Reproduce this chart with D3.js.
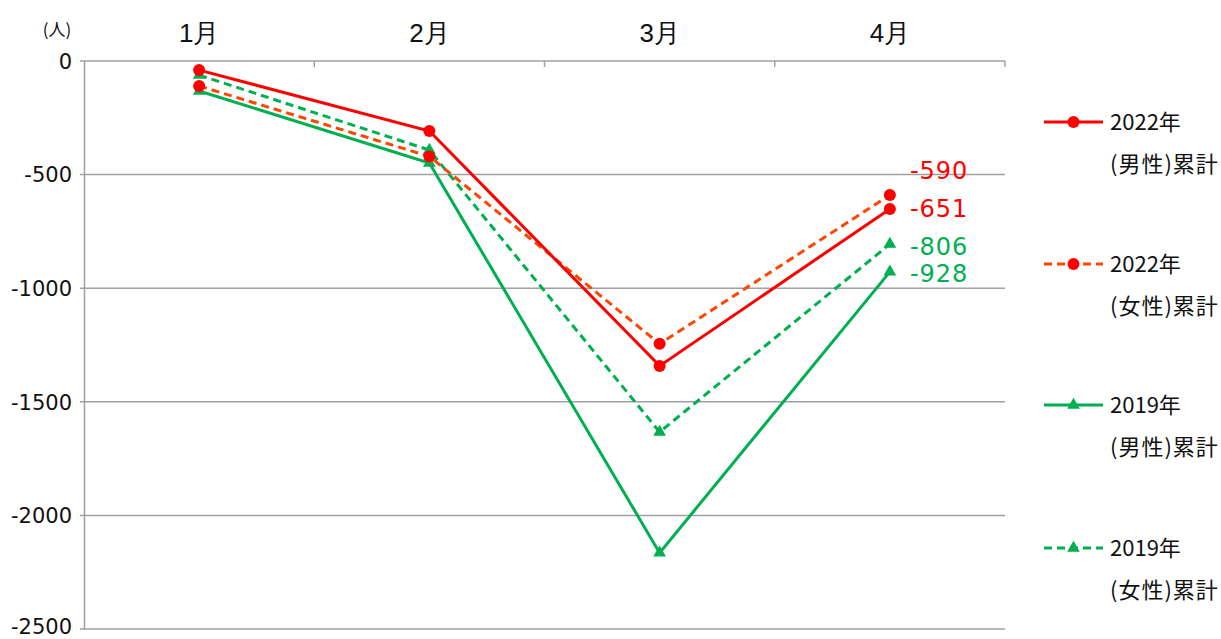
<!DOCTYPE html>
<html>
<head>
<meta charset="utf-8">
<script src="https://cdn.jsdelivr.net/npm/d3@7"></script>
<style>
  body { margin: 0; background: #fff; }
  svg { display: block; font-family: "Noto Sans CJK JP", "Open Sans", sans-serif; }
</style>
</head>
<body>
<svg id="chart" width="1221" height="639"></svg>
<script>
// Monthly cumulative figures (persons)
const months = ["1月", "2月", "3月", "4月"];
const male2022 = [-40, -308, -1342, -651];
const female2022 = [-110, -420, -1245, -590];
const male2019 = [-132, -449, -2165, -928];
const female2019 = [-62, -392, -1633, -806];
const yTicks = [0, -500, -1000, -1500, -2000, -2500];

const series = [
  { year: "2022年", sub: "(男性)累計", values: male2022, color: "#FF0000", markerColor: "#FF0000", dash: null, shape: "circle" },
  { year: "2022年", sub: "(女性)累計", values: female2022, color: "#FF4500", markerColor: "#FF0000", dash: "8,5", shape: "circle" },
  { year: "2019年", sub: "(男性)累計", values: male2019, color: "#00B050", markerColor: "#00B050", dash: null, shape: "triangle" },
  { year: "2019年", sub: "(女性)累計", values: female2019, color: "#00B050", markerColor: "#00B050", dash: "8,5", shape: "triangle" }
];

const svg = d3.select("#chart");
const plotLeft = 84, plotRight = 1005, plotTop = 61, plotBottom = 629;

const x = d3.scaleBand().domain(months).range([plotLeft, plotRight]);
const y = d3.scaleLinear().domain([-2500, 0]).range([plotBottom, plotTop]);

// Horizontal gridlines
svg.append("g").selectAll("line").data(yTicks).join("line")
  .attr("x1", plotLeft - 4).attr("x2", plotRight)
  .attr("y1", d => y(d)).attr("y2", d => y(d))
  .attr("stroke", "#A0A0A0").attr("stroke-width", 1.5);

// Value axis
const yAxis = svg.append("g").attr("transform", `translate(${plotLeft},0)`)
  .call(d3.axisLeft(y).tickValues(yTicks).tickSize(0).tickPadding(12).tickFormat(d => d));
yAxis.select(".domain").attr("stroke", "#A0A0A0").attr("stroke-width", 1.5);
yAxis.selectAll("text").attr("font-size", 21).attr("fill", "#111")
  .attr("font-family", "'DejaVu Sans', sans-serif")
  .attr("dy", d => d === -2500 ? "0.2em" : "0.35em");

// Category axis along the zero line, labels above
const xAxis = svg.append("g").attr("transform", `translate(0,${plotTop})`)
  .call(d3.axisTop(x).tickSize(0).tickPadding(19));
xAxis.select(".domain").remove();
xAxis.selectAll("text").attr("font-size", 26).attr("fill", "#111");
// Tick marks between categories
svg.append("g").selectAll("line").data(months).join("line")
  .attr("x1", d => x(d) + x.bandwidth())
  .attr("x2", d => x(d) + x.bandwidth())
  .attr("y1", plotTop).attr("y2", plotTop + 6)
  .attr("stroke", "#A0A0A0").attr("stroke-width", 1.5);

// Unit label
svg.append("text").attr("x", 57).attr("y", 36).attr("text-anchor", "middle")
  .attr("font-size", 17).attr("fill", "#111").text("(人)");

const cx = m => x(m) + x.bandwidth() / 2;
const line = d3.line().x((d, i) => cx(months[i])).y(d => y(d));
const tri = d3.symbol().type(d3.symbolTriangle).size(70);

function marker(g, s, px, py) {
  if (s.shape === "circle") {
    g.append("circle").attr("cx", px).attr("cy", py).attr("r", 6).attr("fill", s.markerColor);
  } else {
    g.append("path").attr("d", tri).attr("transform", `translate(${px},${py})`).attr("fill", s.markerColor);
  }
}

// Draw series back to front
[...series].reverse().forEach(s => {
  const g = svg.append("g");
  g.append("path").datum(s.values).attr("d", line)
    .attr("fill", "none").attr("stroke", s.color).attr("stroke-width", 3)
    .attr("stroke-dasharray", s.dash);
  s.values.forEach((v, i) => marker(g, s, cx(months[i]), y(v)));
});

// Value labels at the last month
const labelColors = ["#FF0000", "#FF0000", "#00B050", "#00B050"];
const lastIdx = months.length - 1;
const labelOffsets = [0, -24, 2, 2];
series.forEach((s, k) => {
  const v = s.values[lastIdx];
  svg.append("text")
    .attr("x", cx(months[lastIdx]) + 20)
    .attr("y", y(v) + labelOffsets[k])
    .attr("dy", "0.35em")
    .attr("font-size", 24).attr("fill", labelColors[k])
    .attr("font-family", "'DejaVu Sans', sans-serif")
    .attr("letter-spacing", 1)
    .text(v);
});

// Legend
const legY = [122, 264, 405, 548];
series.forEach((s, k) => {
  const g = svg.append("g").attr("transform", `translate(1044,${legY[k]})`);
  g.append("line").attr("x1", 0).attr("x2", 59).attr("y1", 0).attr("y2", 0)
    .attr("stroke", s.color).attr("stroke-width", 3).attr("stroke-dasharray", s.dash);
  marker(g, s, 29.5, 0);
  g.append("text").attr("x", 66).attr("y", 0).attr("dy", "0.35em")
    .attr("font-size", 22).attr("fill", "#111").text(s.year);
  g.append("text").attr("x", 66).attr("y", 42).attr("dy", "0.35em")
    .attr("font-size", 22).attr("letter-spacing", 1).attr("fill", "#111").text(s.sub);
});
</script>
</body>
</html>
